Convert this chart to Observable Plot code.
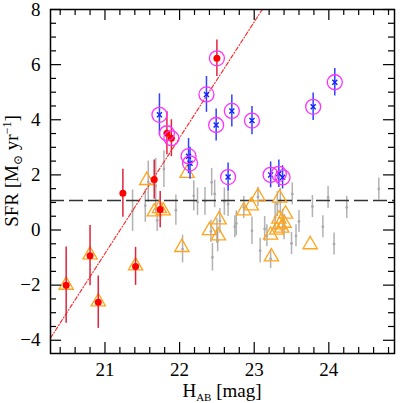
<!DOCTYPE html>
<html><head><meta charset="utf-8">
<script src="https://cdn.jsdelivr.net/npm/d3@7"></script>
<script src="https://cdn.jsdelivr.net/npm/@observablehq/plot@0.6"></script>
<style>body{margin:0;background:#fff} svg{display:block} svg text{font-family:"Liberation Serif","DejaVu Serif",serif !important}</style>
</head><body><div id="chart"></div>
<script>
// ---- data ----
const redX   = [20.48, 20.80, 20.91, 21.24, 21.41, 21.66, 21.74, 21.83, 21.89, 22.50];
const redY   = [-2.00, -0.93, -2.62, 1.33, -1.32, 1.83, 0.74, 3.51, 3.33, 6.23];
const redErr = [1.38, 1.09, 0.95, 0.87, 0.69, 0.71, 0.66, 0.78, 0.67, 0.66];
const redCircled = [0, 0, 0, 0, 0, 0, 0, 1, 1, 1];

const blueX   = [21.73, 22.12, 22.14, 22.36, 22.49, 22.70, 22.65, 22.97, 23.22, 23.33, 23.38, 23.79, 24.08];
const blueY   = [4.18, 2.68, 2.42, 4.92, 3.81, 4.32, 1.92, 3.97, 2.00, 2.04, 1.91, 4.47, 5.36];
const blueErr = [0.76, 0.64, 0.58, 0.65, 0.58, 0.58, 0.51, 0.51, 0.47, 0.50, 0.42, 0.50, 0.50];

const triX = [20.48, 20.80, 20.91, 21.41, 21.56, 21.66, 21.73, 21.78, 22.10, 22.03, 22.40, 22.53, 22.52,
              22.86, 22.96, 23.05, 23.23, 23.22, 23.34, 23.33, 23.34, 23.37, 23.42, 23.40, 23.30, 23.75];
const triY = [-2.00, -0.90, -2.60, -1.30, 1.80, 0.66, 0.78, 0.70, 2.06, -0.63, -0.02, 0.37, -0.21,
              0.70, 0.88, 1.21, -0.97, -0.18, 1.16, 0.40, 0.19, 0.07, 0.58, 0.25, 0.00, -0.53];

const grayX = [21.37, 21.54, 21.58, 21.68, 21.70, 21.79, 21.95, 22.04, 22.19, 22.24, 22.34, 22.43, 22.47,
               22.44, 22.42, 22.50, 22.51, 22.54, 22.60, 22.65, 22.74, 22.76, 22.86, 22.97, 23.08, 23.05,
               23.14, 23.17, 23.22, 23.28, 23.31, 23.35, 23.38, 23.40, 23.51, 23.50, 23.56, 23.60, 23.78,
               23.92, 23.99, 24.07, 24.24, 24.67];
const grayY = [0.70, 0.88, 1.75, 1.60, 0.35, 2.21, 0.72, -0.69, 1.24, 1.02, 1.04, 1.73, 1.31,
               -0.99, -0.05, -0.03, -0.39, 0.33, 1.03, 0.94, 0.12, 0.24, 0.82, -0.03, -0.75, 1.20,
               0.04, -0.21, -1.05, 0.46, 0.94, 1.06, 0.34, 0.10, 1.31, -0.49, -0.21, 0.31, 0.85,
               0.12, 1.18, -0.51, 0.82, 1.49];
const grayErr = [0.75, 0.60, 0.75, 1.00, 0.40, 0.67, 0.55, 0.50, 0.55, 0.50, 0.50, 0.50, 0.50,
                 0.50, 0.40, 0.45, 0.40, 0.45, 0.50, 0.45, 0.40, 0.45, 0.40, 0.50, 0.45, 0.35,
                 0.45, 0.40, 0.35, 0.55, 0.45, 0.45, 0.40, 0.45, 0.40, 0.40, 0.40, 0.40, 0.40,
                 0.40, 0.40, 0.40, 0.40, 0.40];

const sfrLimit = 1.07;           // horizontal dashed line
const fitSlope = 4.2;            // red dash-dot relation
const fitZero  = 21.203;         // H where SFR = 0

const xMajor = [21, 22, 23, 24];
const yMajor = [-4, -2, 0, 2, 4, 6, 8];

// ---- layout ----
const W = 403, H = 403, mL = 50, mR = 9, mT = 9, mB = 50;
const pw = W - mL - mR, ph = H - mT - mB;
const xDomain = [20.27, 24.88], yDomain = [-4.48, 8];
const FONT = "Liberation Serif, DejaVu Serif, serif";

const red = redX.map((x, i) => ({x, y: redY[i], e: redErr[i], c: redCircled[i]}));
const blue = blueX.map((x, i) => ({x, y: blueY[i], e: blueErr[i]}));
const tri = triX.map((x, i) => ({x, y: triY[i]}));
const gray = grayX.map((x, i) => ({x, y: grayY[i], e: grayErr[i]}));
const circled = blue.concat(red.filter(d => d.c));
const fit = xDomain.map(x => ({x, y: fitSlope * (x - fitZero)}));

const xMinor = d3.range(20.4, 24.81, 0.2).filter(v => Math.abs(v - Math.round(v)) > 0.01);
const yMinor = d3.range(-4.0, 8.01, 0.5).filter(v => Math.abs(v / 2 - Math.round(v / 2)) > 0.01);

const fmt = d => d < 0 ? "\u2212" + Math.abs(d) : String(d);
const MAJ = 11, MIN = 6;

const plot = Plot.plot({
  width: W, height: H,
  marginLeft: mL, marginRight: mR, marginTop: mT, marginBottom: mB,
  style: {fontFamily: FONT, fontSize: "19px", background: "white", color: "black"},
  x: {domain: xDomain, ticks: xMajor, tickSize: 0, tickPadding: 9, tickFormat: fmt, label: null},
  y: {domain: yDomain, ticks: yMajor, tickSize: 0, tickPadding: 10, tickFormat: fmt, label: null},
  marks: [
    Plot.ruleX(gray, {x: "x", y1: d => d.y - d.e, y2: d => d.y + d.e, stroke: "#888", strokeOpacity: 0.65, strokeWidth: 1.5}),
    Plot.dot(gray, {x: "x", y: "y", r: 1.4, fill: "#aaa"}),
    Plot.ruleY([sfrLimit], {stroke: "#333", strokeWidth: 1.4, strokeDasharray: "14,5"}),
    Plot.line(fit, {x: "x", y: "y", stroke: "#ff2020", strokeWidth: 1.1, strokeDasharray: "4,2,1,2", clip: true}),
    Plot.dot(tri, {x: "x", y: "y", symbol: "triangle", r: 5.3, stroke: "#ffa41c", strokeWidth: 1.3, fill: "none"}),
    Plot.ruleX(red, {x: "x", y1: d => d.y - d.e, y2: d => d.y + d.e, stroke: "#e0243c", strokeWidth: 1.5}),
    Plot.dot(red, {x: "x", y: "y", r: 3.5, fill: "#ff0000"}),
    Plot.ruleX(blue, {x: "x", y1: d => d.y - d.e, y2: d => d.y + d.e, stroke: "#3040ff", strokeWidth: 1.5}),
    Plot.dot(blue, {x: "x", y: "y", symbol: "times", r: 2.4, stroke: "#1020ff", strokeWidth: 1.4}),
    Plot.dot(circled, {x: "x", y: "y", r: 7.5, stroke: "#ff30ff", strokeWidth: 1.3, fill: "none"}),
    Plot.tickX(xMajor, {x: d => d, insetTop: ph - MAJ, stroke: "black", strokeWidth: 1.2}),
    Plot.tickX(xMajor, {x: d => d, insetBottom: ph - MAJ, stroke: "black", strokeWidth: 1.2}),
    Plot.tickX(xMinor, {x: d => d, insetTop: ph - MIN, stroke: "black", strokeWidth: 1.2}),
    Plot.tickX(xMinor, {x: d => d, insetBottom: ph - MIN, stroke: "black", strokeWidth: 1.2}),
    Plot.tickY(yMajor, {y: d => d, insetRight: pw - MAJ, stroke: "black", strokeWidth: 1.2}),
    Plot.tickY(yMajor, {y: d => d, insetLeft: pw - MAJ, stroke: "black", strokeWidth: 1.2}),
    Plot.tickY(yMinor, {y: d => d, insetRight: pw - MIN, stroke: "black", strokeWidth: 1.2}),
    Plot.tickY(yMinor, {y: d => d, insetLeft: pw - MIN, stroke: "black", strokeWidth: 1.2}),
    Plot.frame({stroke: "black", strokeWidth: 1.5})
  ]
});

const svg = d3.select(plot);

// x label: H_AB [mag]
const xl = svg.append("text")
  .attr("x", mL + pw / 2).attr("y", 397)
  .attr("text-anchor", "middle")
  .attr("font-size", 19).attr("fill", "black");
xl.append("tspan").text("H");
xl.append("tspan").attr("font-size", 11).attr("dy", 4).text("AB");
xl.append("tspan").attr("dy", -4).text(" [mag]");

// y label: SFR [M_⊙ yr^-1]
const yl = svg.append("text")
  .attr("transform", `translate(18,${mT + ph / 2 - 10}) rotate(-90)`)
  .attr("text-anchor", "middle")
  .attr("font-size", 19).attr("fill", "black");
yl.append("tspan").text("SFR [M");
yl.append("tspan").attr("font-size", 12).attr("dy", 4).text("\u2299");
yl.append("tspan").attr("dy", -4).text(" yr");
yl.append("tspan").attr("font-size", 12).attr("dy", -7).text("\u22121");
yl.append("tspan").attr("dy", 7).text("]");

svg.selectAll("text").style("font-family", FONT);

document.getElementById("chart").appendChild(plot);
</script>
</body></html>
